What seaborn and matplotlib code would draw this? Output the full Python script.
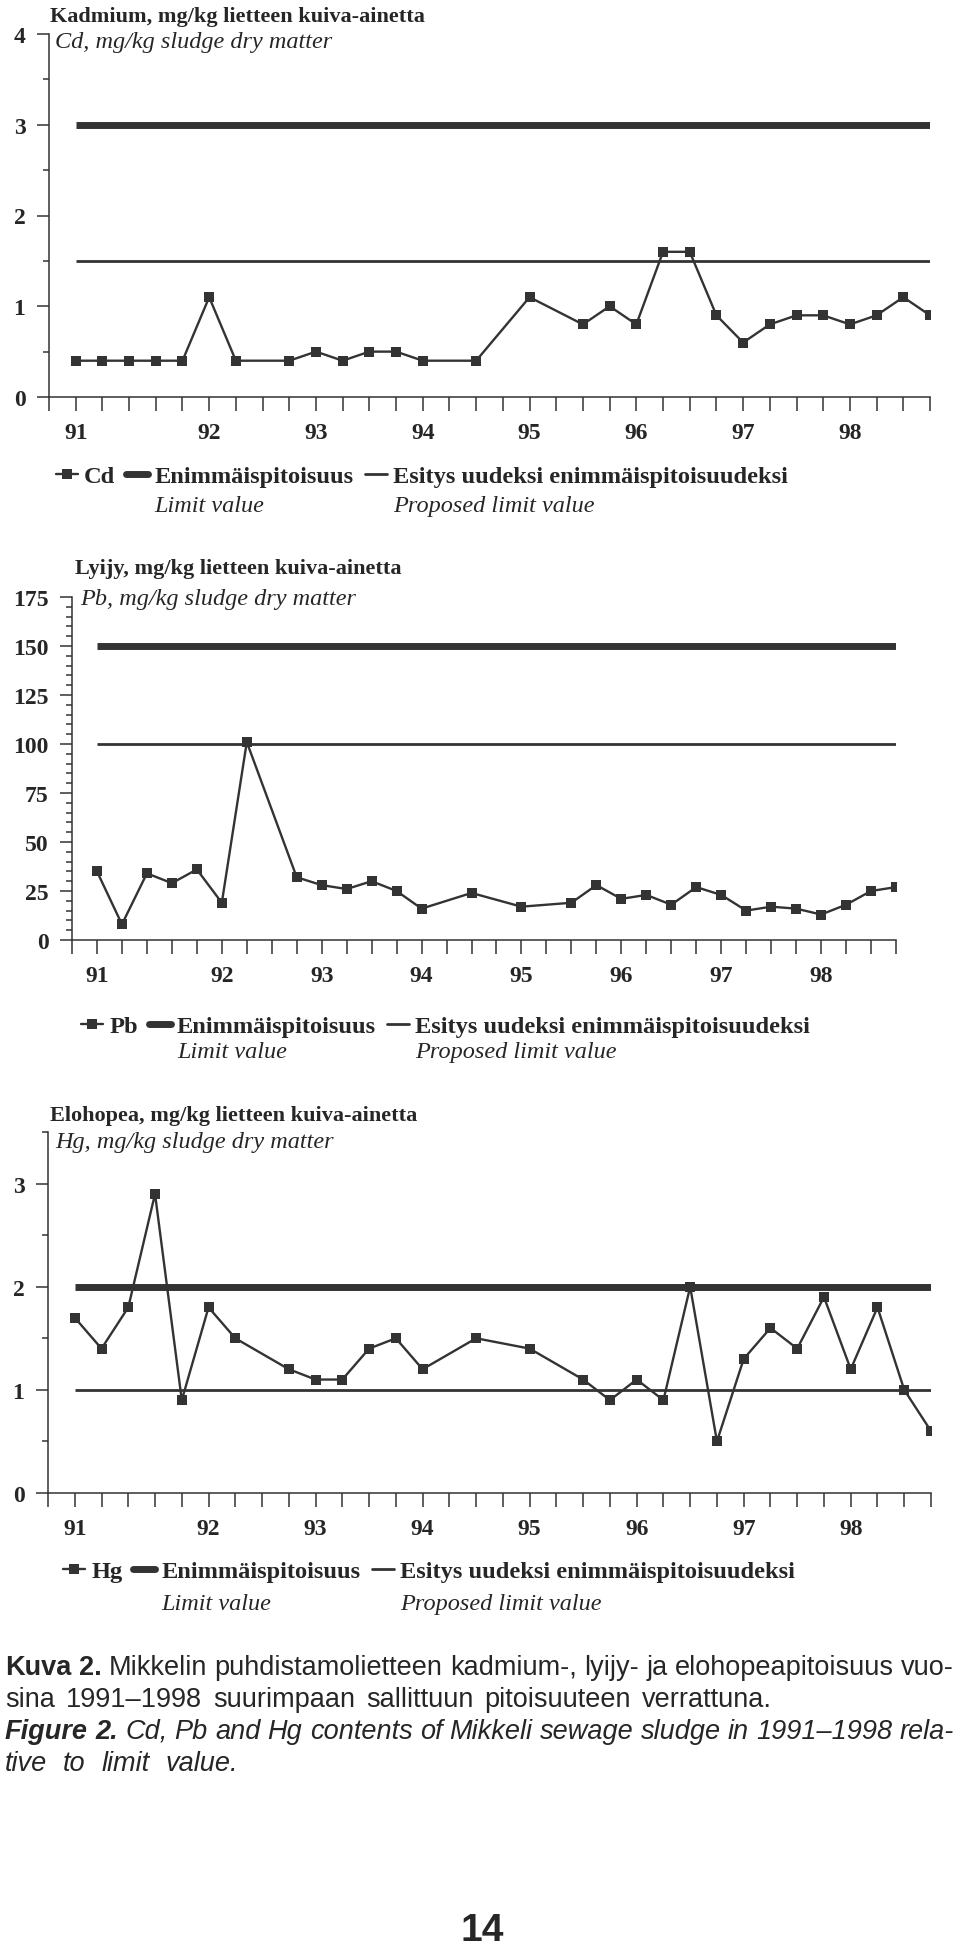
import matplotlib
matplotlib.use('Agg')
import matplotlib.pyplot as plt
import seaborn as sns
from matplotlib.lines import Line2D
from matplotlib import font_manager

# sampling slots on the category axis (33 slots, some empty)
slots = [0, 1, 2, 3, 4, 5, 6, 8, 9, 10, 11, 12, 13, 15, 17,
         19, 20, 21, 22, 23, 24, 25, 26, 27, 28, 29, 30, 31, 32]
year_slots = [0, 5, 9, 13, 17, 21, 25, 29]
year_labels = ['91', '92', '93', '94', '95', '96', '97', '98']

cd = [0.4, 0.4, 0.4, 0.4, 0.4, 1.1, 0.4, 0.4, 0.5, 0.4, 0.5, 0.5, 0.4, 0.4, 1.1,
      0.8, 1.0, 0.8, 1.6, 1.6, 0.9, 0.6, 0.8, 0.9, 0.9, 0.8, 0.9, 1.1, 0.9]
pb = [35, 8, 34, 29, 36, 19, 101, 32, 28, 26, 30, 25, 16, 24, 17,
      19, 28, 21, 23, 18, 27, 23, 15, 17, 16, 13, 18, 25, 27]
hg = [1.7, 1.4, 1.8, 2.9, 0.9, 1.8, 1.5, 1.2, 1.1, 1.1, 1.4, 1.5, 1.2, 1.5, 1.4,
      1.1, 0.9, 1.1, 0.9, 2.0, 0.5, 1.3, 1.6, 1.4, 1.9, 1.2, 1.8, 1.0, 0.6]

limit_values = [3, 150, 2]
proposed_values = [1.5, 100, 1]
series_names = ['Cd', 'Pb', 'Hg']
titles = ['Kadmium, mg/kg lietteen kuiva-ainetta',
          'Lyijy, mg/kg lietteen kuiva-ainetta',
          'Elohopea, mg/kg lietteen kuiva-ainetta']
subtitles = ['Cd, mg/kg sludge dry matter',
             'Pb, mg/kg sludge dry matter',
             'Hg, mg/kg sludge dry matter']

sns.set_theme(style='ticks')
plt.rcParams['font.family'] = ['Liberation Serif', 'DejaVu Serif']

W, H = 960, 1949
fig = plt.figure(figsize=(W / 100, H / 100), dpi=100)
fig.patch.set_facecolor('white')
C = '#333333'


def fx(x):
    return x / W


def fy(y):
    return 1 - y / H


# layout in pixels: axes box (left, top, right, bottom), title/subtitle anchors, legend
layout = [
    dict(box=(49, 35, 930, 398), ylim=(0, 4), major=1, minor=0.5,
         title=(50, 22), sub=(55, 48), leg=(56, 477), leg2=512),
    dict(box=(72, 598, 896, 941), ylim=(0, 175), major=25, minor=5,
         title=(75, 574), sub=(80, 605), leg=(81, 1027), leg2=1058),
    dict(box=(48, 1133, 931, 1494), ylim=(0, 3.5), major=1, minor=0.5,
         title=(50, 1121), sub=(55, 1148), leg=(63, 1572), leg2=1610),
]
data = [cd, pb, hg]

legends = []
for i, (vals, lay) in enumerate(zip(data, layout)):
    l, t, r, b = lay['box']
    ax = fig.add_axes([fx(l), fy(b), fx(r - l), (b - t) / H])
    ax.set_facecolor('none')

    ax.hlines(limit_values[i], slots[0], slots[-1], color=C, lw=5, zorder=2)
    ax.hlines(proposed_values[i], slots[0], slots[-1], color=C, lw=2, zorder=2)
    sns.lineplot(x=slots, y=vals, ax=ax, color=C, lw=1.7, marker='s',
                 markersize=7.5, markeredgewidth=0, zorder=3)

    ax.set_xlim(-1, 32)
    ax.set_ylim(*lay['ylim'])
    ax.set_xticks(year_slots)
    ax.set_xticklabels(year_labels)
    ax.set_xticks(range(-1, 33), minor=True)
    ymax = lay['ylim'][1]
    n_major = int(ymax // lay['major'])
    ax.set_yticks([k * lay['major'] for k in range(n_major + 1)])
    n_minor = int(round(ymax / lay['minor']))
    ax.set_yticks([k * lay['minor'] for k in range(n_minor + 1)], minor=True)
    ax.tick_params(axis='x', which='both', length=10, width=1.1, color=C,
                   direction='out', pad=8)
    ax.tick_params(axis='y', which='major', length=9, width=1.1, color=C,
                   direction='out', pad=8)
    ax.tick_params(axis='y', which='minor', length=4.5, width=1.1, color=C,
                   direction='out')
    for lab in ax.get_xticklabels() + ax.get_yticklabels():
        lab.set_fontweight('bold')
        lab.set_fontsize(17)
    sns.despine(ax=ax)
    for s in ['left', 'bottom']:
        ax.spines[s].set_linewidth(1.1)
        ax.spines[s].set_color(C)
    ax.set_xlabel('')
    ax.set_ylabel('')

    fig.text(fx(lay['title'][0]), fy(lay['title'][1]), titles[i], fontsize=16,
             fontweight='bold', va='baseline', ha='left')
    fig.text(fx(lay['sub'][0]), fy(lay['sub'][1]), subtitles[i], fontsize=17.5,
             fontstyle='italic', va='baseline', ha='left')

    handles = [Line2D([], [], color=C, lw=1.7, marker='s', markersize=7.5, markeredgewidth=0),
               Line2D([], [], color=C, lw=5),
               Line2D([], [], color=C, lw=2)]
    labels = [series_names[i], 'Enimmäispitoisuus', 'Esitys uudeksi enimmäispitoisuudeksi']
    leg = fig.legend(handles, labels, loc='center left',
                     bbox_to_anchor=(fx(lay['leg'][0]), fy(lay['leg'][1])),
                     ncol=3, frameon=False, borderpad=0, borderaxespad=0,
                     handlelength=0.9, handletextpad=0.25, columnspacing=0.45,
                     prop=dict(family='Liberation Serif', weight='bold', size=17.6))
    legends.append((leg, lay['leg2']))

fig.canvas.draw()
renderer = fig.canvas.get_renderer()
for leg, y2 in legends:
    texts = leg.get_texts()
    for txt, sub in zip(texts[1:], ['Limit value', 'Proposed limit value']):
        x0 = txt.get_window_extent(renderer).x0
        fig.text(x0 / W, fy(y2), sub, fontsize=17.5, fontstyle='italic',
                 va='baseline', ha='left')

# caption, justified lines
sans = 'Liberation Sans'
cap_size = 19.5


def place_words(words, y, x0=5, x1=954, gap=None):
    objs = [fig.text(0, fy(y), w, fontsize=cap_size, family=sans, va='baseline',
                     ha='left', **kw) for w, kw in words]
    widths = [o.get_window_extent(renderer).width for o in objs]
    if gap is None:
        gap = (x1 - x0 - sum(widths)) / (len(objs) - 1)
    x = x0
    for o, w in zip(objs, widths):
        o.set_x(x / W)
        x += w + gap


reg = {}
bold = {'fontweight': 'bold'}
ital = {'fontstyle': 'italic'}
bital = {'fontweight': 'bold', 'fontstyle': 'italic'}

line1 = [('Kuva', bold), ('2.', bold)] + [(w, reg) for w in
        'Mikkelin puhdistamolietteen kadmium-, lyijy- ja elohopeapitoisuus vuo-'.split()]
line2 = [(w, reg) for w in 'sina 1991–1998 suurimpaan sallittuun pitoisuuteen verrattuna.'.split()]
line3 = [('Figure', bital), ('2.', bital)] + [(w, ital) for w in
        'Cd, Pb and Hg contents of Mikkeli sewage sludge in 1991–1998 rela-'.split()]
line4 = [(w, ital) for w in 'tive to limit value.'.split()]

place_words(line1, 1675)
place_words(line2, 1707, gap=11)
place_words(line3, 1739)
place_words(line4, 1771, gap=16)

names = {f.name for f in font_manager.fontManager.ttflist}
num_font = 'Liberation Sans Narrow' if 'Liberation Sans Narrow' in names else 'Liberation Sans'
fig.text(fx(482), fy(1941), '14', fontsize=28, fontweight='bold', family=num_font,
         ha='center', va='baseline')

fig.savefig('out.png', dpi=100, facecolor='white')
